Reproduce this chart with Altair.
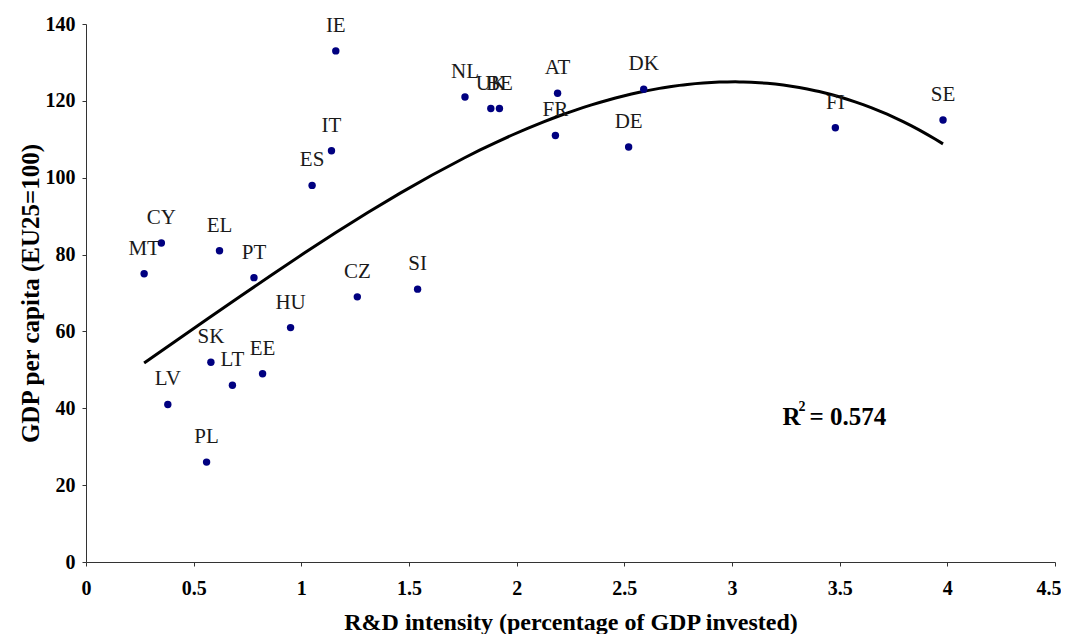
import altair as alt
import pandas as pd

countries = ["IE", "NL", "UK", "BE", "AT", "FR", "DK", "DE", "FI", "SE",
             "IT", "ES", "CY", "MT", "EL", "PT", "CZ", "SI", "HU", "SK",
             "LT", "EE", "LV", "PL"]
rd_intensity = [1.16, 1.76, 1.88, 1.92, 2.19, 2.18, 2.59, 2.52, 3.48, 3.98,
                1.14, 1.05, 0.35, 0.27, 0.62, 0.78, 1.26, 1.54, 0.95, 0.58,
                0.68, 0.82, 0.38, 0.56]
gdp_per_capita = [133, 121, 118, 118, 122, 111, 123, 108, 113, 115,
                  107, 98, 83, 75, 81, 74, 69, 71, 61, 52,
                  46, 49, 41, 26]

annot_x = [3.235]
annot_y = [37.8]

df = pd.DataFrame({"country": countries, "x": rd_intensity, "y": gdp_per_capita})
ann = pd.DataFrame({"x": annot_x, "y": annot_y})

FONT = "Liberation Serif"

xs = alt.Scale(domain=[0, 4.5], nice=False, zero=True)
ys = alt.Scale(domain=[0, 140], nice=False, zero=True)

xaxis = alt.Axis(title="R&D intensity (percentage of GDP invested)",
                 values=[0, 0.5, 1, 1.5, 2, 2.5, 3, 3.5, 4, 4.5], format="~g",
                 grid=False, labelFont=FONT, labelFontWeight="bold", labelFontSize=20,
                 labelColor="#000", labelPadding=12, tickSize=4, tickColor="#333",
                 domainColor="#333", titleFont=FONT, titleFontSize=24,
                 titleFontWeight="bold", titleColor="#000", titlePadding=12,
                 labelFlush=False,
                 labelAlign={"expr": "datum.value == 4.5 ? 'right' : 'center'"},
                 labelOffset={"expr": "datum.value == 4.5 ? 6 : 0"})
yaxis = alt.Axis(title="GDP per capita (EU25=100)",
                 values=[0, 20, 40, 60, 80, 100, 120, 140],
                 grid=False, labelFont=FONT, labelFontWeight="bold", labelFontSize=20,
                 labelColor="#000", labelPadding=7, tickSize=4, tickColor="#333",
                 domainColor="#333", titleFont=FONT, titleFontSize=25,
                 titleFontWeight="bold", titleColor="#000", titlePadding=2,
                 labelFlush=False)

base = alt.Chart(df)

points = base.mark_circle(size=55, color="#000080", opacity=1).encode(
    x=alt.X("x:Q", scale=xs, axis=xaxis),
    y=alt.Y("y:Q", scale=ys, axis=yaxis),
)

labels = base.mark_text(font=FONT, fontSize=21, color="#1a1a1a", baseline="alphabetic",
                        align="center", dy=-19).encode(
    x=alt.X("x:Q", scale=xs), y=alt.Y("y:Q", scale=ys), text="country:N"
)

trend = base.transform_regression("x", "y", method="poly", order=3).mark_line(
    color="#000", strokeWidth=3
).encode(x=alt.X("x:Q", scale=xs), y=alt.Y("y:Q", scale=ys))

annb = alt.Chart(ann)
r_txt = annb.mark_text(font=FONT, fontSize=25, fontWeight="bold", color="#000",
                       align="left", baseline="middle").encode(
    x=alt.X("x:Q", scale=xs), y=alt.Y("y:Q", scale=ys), text=alt.value("R"))
sup_txt = annb.mark_text(font=FONT, fontSize=14, fontWeight="bold", color="#000",
                         align="left", baseline="middle", dx=16, dy=-10).encode(
    x=alt.X("x:Q", scale=xs), y=alt.Y("y:Q", scale=ys), text=alt.value("2"))
eq_txt = annb.mark_text(font=FONT, fontSize=25, fontWeight="bold", color="#000",
                        align="left", baseline="middle", dx=27).encode(
    x=alt.X("x:Q", scale=xs), y=alt.Y("y:Q", scale=ys), text=alt.value("= 0.574"))

chart = alt.layer(trend, points, labels, r_txt, sup_txt, eq_txt).properties(
    width=969, height=538,
    autosize=alt.AutoSizeParams(type="none"),
    padding={"left": 78, "top": 16, "right": 6, "bottom": 72},
    background="white",
).configure_view(stroke=None)

chart.save("out.html", embed_options={"renderer": "svg", "actions": False})
